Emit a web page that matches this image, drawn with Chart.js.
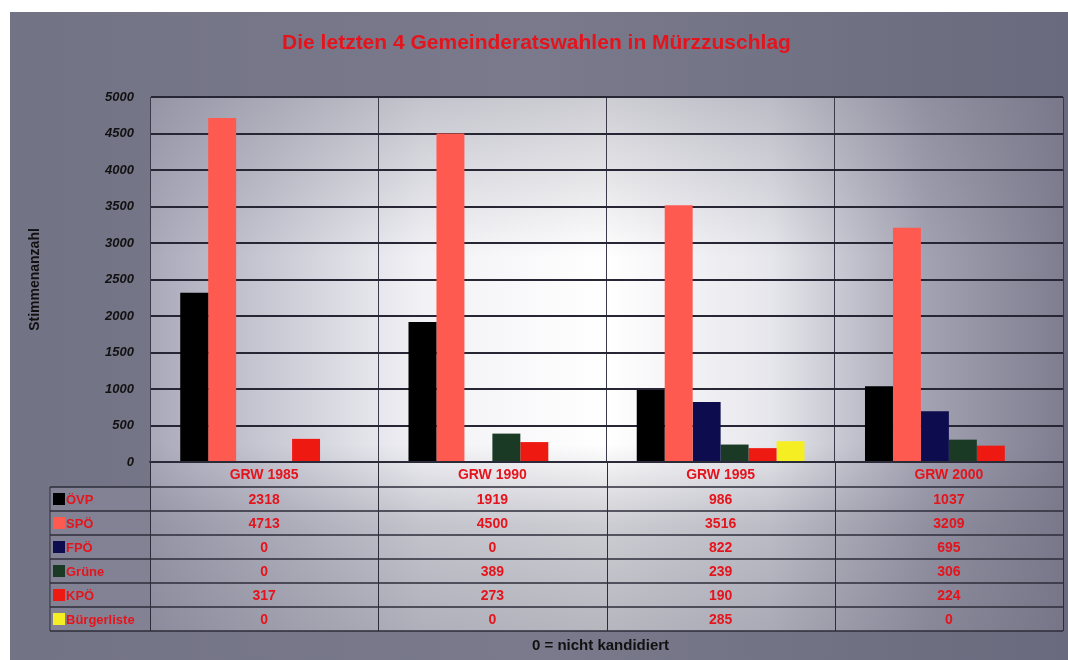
<!DOCTYPE html>
<html>
<head>
<meta charset="utf-8">
<script src="https://cdn.jsdelivr.net/npm/chart.js@4.4.1/dist/chart.umd.min.js"></script>
<style>
    html, body { margin: 0; padding: 0; background: #fff; }
    #wrap { width: 1068px; height: 660px; }
</style>
</head>
<body>
<div id="wrap"><canvas id="chart" width="1068" height="660"></canvas></div>
<script>
// Chart data
var categories = ['GRW 1985', 'GRW 1990', 'GRW 1995', 'GRW 2000'];
var parties = ['ÖVP', 'SPÖ', 'FPÖ', 'Grüne', 'KPÖ', 'Bürgerliste'];
var oevp = [2318, 1919, 986, 1037];
var spoe = [4713, 4500, 3516, 3209];
var fpoe = [0, 0, 822, 695];
var gruene = [0, 389, 239, 306];
var kpoe = [317, 273, 190, 224];
var buergerliste = [0, 0, 285, 0];
var yMax = 5000;
var yStep = 500;

var partyColors = ['#000000', '#ff5a50', '#0c0c4e', '#1b3a26', '#ee1a12', '#f4ee22'];
var seriesValues = [oevp, spoe, fpoe, gruene, kpoe, buergerliste];

var FONT = '"Liberation Sans", Arial, sans-serif';
var TEXT_RED = '#e5141c';
var ROW_H = 24;
var LABEL_BAND = 25;

// Background: grey frame plus lighter plot/table panel
var backgroundPlugin = {
    id: 'background',
    beforeDraw: function(chart) {
        var ctx = chart.ctx;
        var area = chart.chartArea;
        var tableTop = area.bottom + LABEL_BAND;
        var tableBottom = tableTop + ROW_H * parties.length;
        var w = area.right - area.left;
        ctx.save();
        ctx.fillStyle = '#ffffff';
        ctx.fillRect(0, 0, chart.width, chart.height);

        var outer = ctx.createLinearGradient(10, 0, chart.width, 0);
        outer.addColorStop(0, '#737386');
        outer.addColorStop(0.5, '#7a7a8c');
        outer.addColorStop(1, '#6a6a7e');
        ctx.fillStyle = outer;
        ctx.fillRect(10, 12, chart.width - 10, chart.height - 12);

        // panel behind bars, labels and table
        var panel = ctx.createLinearGradient(area.left, 0, area.right, 0);
        panel.addColorStop(0, '#a9a9ba');
        panel.addColorStop(0.3, '#f2f2f6');
        panel.addColorStop(0.5, '#ffffff');
        panel.addColorStop(0.68, '#e6e6ec');
        panel.addColorStop(0.85, '#a2a2b2');
        panel.addColorStop(1, '#7e7e90');
        ctx.fillStyle = panel;
        ctx.fillRect(area.left, area.top, w, tableBottom - area.top);

        // darken top and table parts
        var shade = ctx.createLinearGradient(0, area.top, 0, tableBottom);
        shade.addColorStop(0, 'rgba(110,110,128,0.35)');
        shade.addColorStop(0.3, 'rgba(110,110,128,0.0)');
        shade.addColorStop(0.65, 'rgba(110,110,128,0.0)');
        shade.addColorStop(0.8, 'rgba(110,110,128,0.35)');
        shade.addColorStop(1, 'rgba(110,110,128,0.5)');
        ctx.fillStyle = shade;
        ctx.fillRect(area.left, area.top, w, tableBottom - area.top);

        // legend column of the table
        ctx.fillStyle = '#828294';
        ctx.fillRect(area.left - 100, tableTop, 100, ROW_H * parties.length);
        ctx.restore();
    }
};

// Data table under the x axis
var dataTablePlugin = {
    id: 'dataTable',
    afterDraw: function(chart) {
        var ctx = chart.ctx;
        var area = chart.chartArea;
        var xScale = chart.scales.x;
        var top = area.bottom + LABEL_BAND;
        var legendLeft = area.left - 100;
        var half = (xScale.getPixelForValue(1) - xScale.getPixelForValue(0)) / 2;
        var i, j, y;

        ctx.save();
        // horizontal lines
        ctx.strokeStyle = '#2c2c3a';
        ctx.lineWidth = 1.5;
        for (j = 0; j <= parties.length; j++) {
            y = top + j * ROW_H;
            ctx.beginPath();
            ctx.moveTo(legendLeft, y);
            ctx.lineTo(area.right, y);
            ctx.stroke();
        }
        // vertical lines
        ctx.lineWidth = 1;
        ctx.beginPath();
        ctx.moveTo(legendLeft, top);
        ctx.lineTo(legendLeft, top + ROW_H * parties.length);
        ctx.stroke();
        for (i = 0; i <= categories.length; i++) {
            var x = i < categories.length ? xScale.getPixelForValue(i) - half : xScale.getPixelForValue(i - 1) + half;
            ctx.beginPath();
            ctx.moveTo(Math.round(x) + 0.5, area.bottom);
            ctx.lineTo(Math.round(x) + 0.5, top + ROW_H * parties.length);
            ctx.stroke();
        }

        // legend keys and names
        ctx.textBaseline = 'middle';
        ctx.font = 'bold 13px ' + FONT;
        for (j = 0; j < parties.length; j++) {
            y = top + j * ROW_H + ROW_H / 2;
            ctx.fillStyle = partyColors[j];
            ctx.fillRect(legendLeft + 3, y - 6, 12, 12);
            ctx.fillStyle = TEXT_RED;
            ctx.textAlign = 'left';
            ctx.fillText(parties[j], legendLeft + 16, y + 1);
        }

        // values
        ctx.font = 'bold 14px ' + FONT;
        ctx.textAlign = 'center';
        for (j = 0; j < parties.length; j++) {
            y = top + j * ROW_H + ROW_H / 2 + 1;
            for (i = 0; i < categories.length; i++) {
                ctx.fillText(String(seriesValues[j][i]), xScale.getPixelForValue(i), y);
            }
        }

        // footnote
        ctx.fillStyle = '#111111';
        ctx.font = 'bold 15px ' + FONT;
        ctx.fillText('0 = nicht kandidiert', (area.left + area.right) / 2 - 6, top + ROW_H * parties.length + 15);
        ctx.restore();
    }
};

var datasets = parties.map(function(name, k) {
    return {
        label: name,
        data: seriesValues[k],
        backgroundColor: partyColors[k],
        borderWidth: 0,
        barPercentage: 1.0,
        categoryPercentage: 0.735
    };
});

new Chart(document.getElementById('chart'), {
    type: 'bar',
    data: {
        labels: categories,
        datasets: datasets
    },
    options: {
        responsive: false,
        animation: false,
        layout: {
            padding: { left: 10, right: 5, top: 0, bottom: 173 }
        },
        plugins: {
            legend: { display: false },
            tooltip: { enabled: false },
            title: {
                display: true,
                text: 'Die letzten 4 Gemeinderatswahlen in Mürzzuschlag',
                color: TEXT_RED,
                font: { family: FONT, size: 21, weight: 'bold' },
                padding: { top: 31, bottom: 40.8 }
            }
        },
        scales: {
            x: {
                afterFit: function(scale) { scale.height = LABEL_BAND; },
                grid: { display: true, drawTicks: false, color: '#3a3a4a', lineWidth: 1 },
                border: { display: true, color: '#2c2c3a', width: 1.5 },
                ticks: {
                    color: TEXT_RED,
                    padding: 5,
                    font: { family: FONT, size: 14, weight: 'bold' }
                }
            },
            y: {
                min: 0,
                max: yMax,
                afterFit: function(scale) { scale.width = 140; },
                grid: { drawTicks: false, color: '#262634', lineWidth: 2 },
                border: { display: true, color: '#3a3a4a', width: 1 },
                ticks: {
                    stepSize: yStep,
                    color: '#111111',
                    padding: 16,
                    font: { family: FONT, size: 13, weight: 'bold', style: 'italic' },
                    callback: function(value) { return String(value); }
                },
                title: {
                    display: true,
                    text: 'Stimmenanzahl',
                    color: '#111111',
                    padding: { top: 17, bottom: 0 },
                    font: { family: FONT, size: 14, weight: 'bold' }
                }
            }
        }
    },
    plugins: [backgroundPlugin, dataTablePlugin]
});
</script>
</body>
</html>
